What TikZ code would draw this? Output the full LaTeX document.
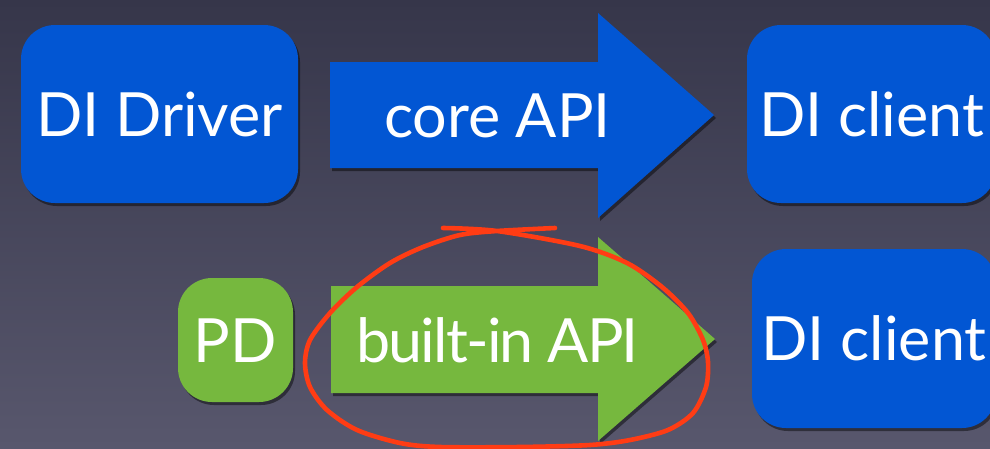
\documentclass[tikz,border=0pt]{standalone}
\usepackage{fontspec}
\setmainfont{Lato}
\usetikzlibrary{shadows}
\definecolor{bgtop}{HTML}{36364A}
\definecolor{bgbot}{HTML}{58576D}
\definecolor{diblue}{HTML}{0256D3}
\definecolor{pdgreen}{HTML}{76B83E}
\definecolor{markred}{HTML}{FF3C14}
\newcommand{\bigtxt}{\fontsize{61}{70}\selectfont}
\tikzset{
  shad/.style={drop shadow={shadow xshift=2pt, shadow yshift=-3pt, opacity=0.45, fill=black}},
  boxnode/.style={fill=#1, rounded corners=34pt, text=white, font=\bigtxt,
    text height=44pt, text depth=0pt, inner sep=0pt, shad},
  label/.style={text=white, font=\bigtxt, text height=44pt, text depth=0pt, inner sep=0pt},
  blockarrow/.style={fill=#1, shad},
  ring/.style={draw=markred, line width=4.6pt, line cap=round, line join=round}
}
\begin{document}
\begin{tikzpicture}[x=1pt, y=-1pt]
\useasboundingbox (0,0) rectangle (990,448);
\clip (0,0) rectangle (990,448);
\fill[top color=bgtop, bottom color=bgbot] (0,0) rectangle (990,448);

% top row
\node[boxnode=diblue, minimum width=277pt, minimum height=178pt] (driver) at (159.5,114) {DI Driver};
\fill[blockarrow=diblue] (330,62) -- (598,62) -- (598,13) -- (714,115) -- (598,218) -- (598,168) -- (330,168) -- cycle;
\node[label] (core) at (497.5,115) {core API};
\node[boxnode=diblue, minimum width=249pt, minimum height=178pt] (client1) at (871.5,114) {DI client};

% bottom row
\node[boxnode=pdgreen, minimum width=115pt, minimum height=124pt] (pd) at (235.5,340) {PD};
\fill[blockarrow=pdgreen] (331,286) -- (598,286) -- (598,237) -- (715,339) -- (598,441) -- (598,393) -- (331,393) -- cycle;
\node[label] (builtin) at (497.5,340) {\addfontfeature{LetterSpace=-3}built-in API};
\node[boxnode=diblue, minimum width=244pt, minimum height=179pt] (client2) at (874,338.5) {DI client};

% hand-drawn red ring
\draw[ring] plot[smooth, tension=0.5] coordinates {(443,228) (497,231) (580,246) (627,263) (662,287) (688,313) (703,340) (708,362) (706,387) (693,413) (668,430) (630,440) (590,445) (520,447) (440,447) (400,443) (357,430) (327,410) (310,387) (305,363) (310,340) (330,313) (357,287) (390,263) (423,247) (460,235) (497,231) (555,228)};
\end{tikzpicture}
\end{document}
